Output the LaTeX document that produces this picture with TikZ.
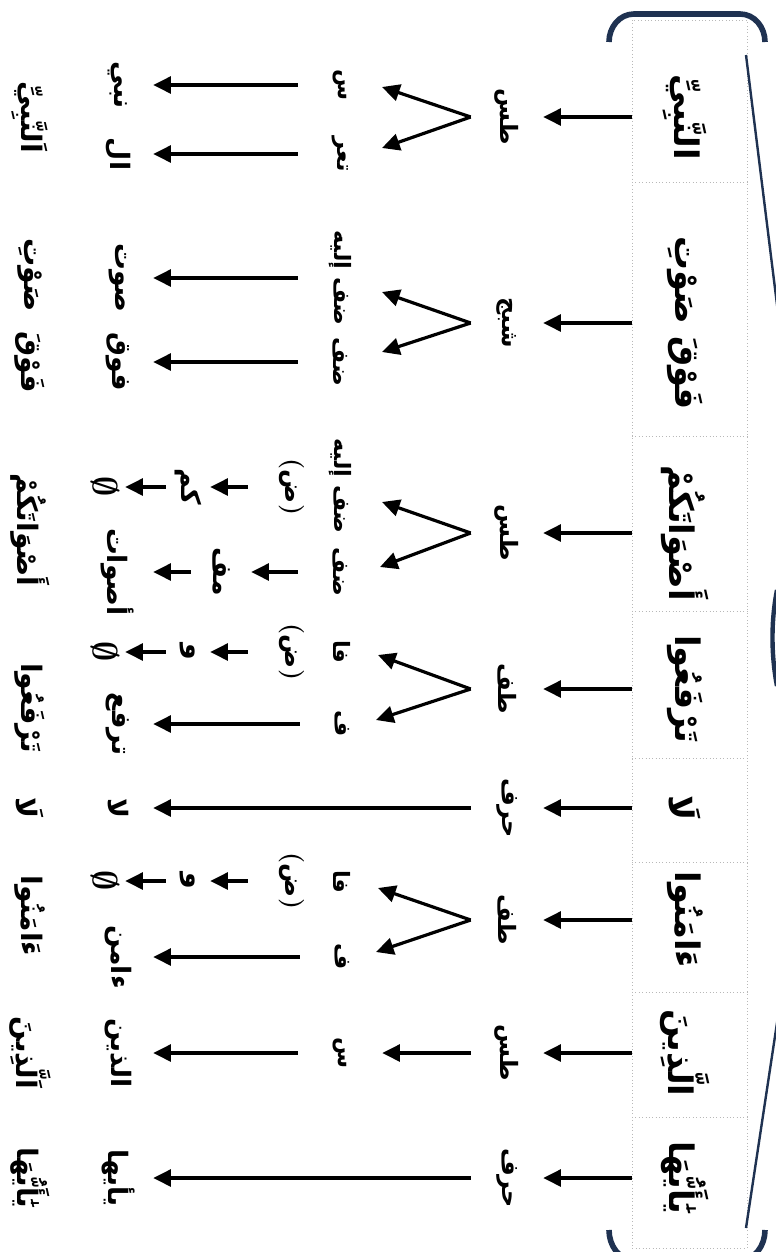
\documentclass[tikz,border=0pt]{standalone}
\usepackage{amssymb}
\usepackage{fontspec}
\usetikzlibrary{arrows.meta}
\newfontfamily\arabicfont[Script=Arabic]{DejaVu Sans}
\TeXXeTstate=1
\newcommand{\artx}[1]{{\arabicfont\bfseries\beginR #1\endR}}
\definecolor{navy}{HTML}{1F3251}
\definecolor{cellgray}{HTML}{B8B8B8}

\begin{document}
\begin{tikzpicture}[x=0.025cm,y=-0.025cm]
\tikzstyle{wrd}=[rotate=-90,inner sep=0pt,minimum height=2.65cm,font=\fontsize{24}{28}\selectfont]
\tikzstyle{lvla}=[rotate=-90,inner sep=0pt,minimum height=1.8cm,font=\fontsize{17}{20}\selectfont]
\tikzstyle{lvlb}=[rotate=-90,inner sep=0pt,minimum height=2.1cm,font=\fontsize{16}{19}\selectfont]
\tikzstyle{lvlc}=[rotate=-90,inner sep=0pt,minimum height=1.75cm,font=\fontsize{19}{22}\selectfont]
\tikzstyle{chn}=[rotate=-90,inner sep=0pt,minimum height=1.1cm,font=\fontsize{19}{22}\selectfont]
\tikzstyle{prn}=[rotate=-90,inner sep=0pt,minimum height=2.2cm,font=\fontsize{18}{22}\selectfont\bfseries]
\tikzstyle{nul}=[rotate=-90,inner sep=0pt,minimum height=1cm,font=\fontsize{26}{30}\selectfont\boldmath]
\tikzstyle{fin}=[rotate=-90,inner sep=0pt,font=\fontsize{20}{24}\selectfont]
\tikzstyle{arr}=[line width=0.8mm,-{Triangle[length=4.4mm,width=4.2mm]}]
\tikzstyle{brk}=[draw=navy,line width=1.4mm]
\useasboundingbox (0,0) rectangle (776,1252);
\clip (0,0) rectangle (776,1252);
\fill[white] (0,0) rectangle (776,1252);

% column of words
\draw[cellgray,dotted] (632,20) rectangle (747,1248);
\foreach \y in {182,436,611,758,862,992,1117}
  \draw[cellgray,dotted] (632,\y) -- (747,\y);
\draw[brk] (609,42) to[out=90,in=180] (634,14) -- (740,14) to[out=0,in=90] (765,42);
\draw[brk] (609,1230) to[out=-90,in=180] (634,1260) -- (740,1260) to[out=0,in=-90] (765,1230);
\draw[navy,line width=0.6mm] (746,55) -- (826,699) -- (746,1228);
\draw[navy,line width=1.1mm] (777,590) .. controls (771,620) and (771,655) .. (777,686);

\node[wrd] (w1) at (685,117) {\artx{النَّبِيِّ}};
\node[wrd] (w2) at (685,323) {\artx{فَوْقَ صَوْتِ}};
\node[wrd] (w3) at (685,533) {\artx{أَصْوَاتَكُمْ}};
\node[wrd] (w4) at (685,689) {\artx{تَرْفَعُوا}};
\node[wrd] (w5) at (685,808) {\artx{لَا}};
\node[wrd] (w6) at (685,920) {\artx{ءَامَنُوا}};
\node[wrd] (w7) at (685,1053) {\artx{الَّذِينَ}};
\node[wrd] (w8) at (685,1178) {\artx{يَٰأَيُّهَا}};

\node[lvla] (r1) at (507,117) {\artx{طس}};
\node[lvla] (r2) at (507,323) {\artx{شبج}};
\node[lvla] (r3) at (507,533) {\artx{طس}};
\node[lvla] (r4) at (507,689) {\artx{طف}};
\node[lvla] (r5) at (507,808) {\artx{حرف}};
\node[lvla] (r6) at (507,920) {\artx{طف}};
\node[lvla] (r7) at (507,1053) {\artx{طس}};
\node[lvla] (r8) at (507,1178) {\artx{حرف}};
\foreach \i in {1,...,8}
  \draw[arr] (w\i) -- (r\i);

\coordinate (tp1) at (382,87);   \coordinate (tq1) at (382,148);
\coordinate (tp2) at (382,292);  \coordinate (tq2) at (382,352);
\coordinate (tp3) at (382,502);  \coordinate (tq3) at (380,567);
\coordinate (tp4) at (378,655);  \coordinate (tq4) at (376,720);
\coordinate (tp6) at (378,888);  \coordinate (tq6) at (376,952);
\foreach \i in {1,2,3,4,6} {
  \draw[arr] (r\i.south) -- (tp\i);
  \draw[arr] (r\i.south) -- (tq\i);
}

\node[lvlb] (p1) at (340,85) {\artx{س}};
\node[lvlb] (q1) at (340,154) {\artx{تعر}};
\node[lvlb] (p2) at (340,278) {\artx{ضف إليه}};
\node[lvlb] (q2) at (340,362) {\artx{ضف}};
\node[lvlb] (p3) at (340,486) {\artx{ضف إليه}};
\node[lvlb] (q3) at (340,572) {\artx{ضف}};
\node[lvlb] (p4) at (342,652) {\artx{فا}};
\node[lvlb] (q4) at (342,724) {\artx{ف}};
\node[lvlb] (p6) at (342,882) {\artx{فا}};
\node[lvlb] (q6) at (342,957) {\artx{ف}};
\node[lvlb] (p7) at (340,1053) {\artx{س}};
\draw[arr] (r7) -- (p7);

\node[prn] (z3) at (292,487) {(\artx{ض})};
\node[prn] (z4) at (292,652) {(\artx{ض})};
\node[prn] (z6) at (292,881) {(\artx{ض})};

\node[lvlc] (np1) at (118,85) {\artx{نبي}};
\node[lvlc] (nq1) at (118,154) {\artx{ال}};
\node[lvlc] (np2) at (118,278) {\artx{صوت}};
\node[lvlc] (nq2) at (118,362) {\artx{فوق}};
\node[chn] (cp3) at (188,487) {\artx{كم}};
\node[nul] (ep3) at (105,487) {$\emptyset$};
\node[chn,minimum height=1.5cm] (cq3) at (221,572) {\artx{مف}};
\node[lvlc] (nq3) at (118,572) {\artx{أصوات}};
\node[chn] (cp4) at (188,652) {\artx{و}};
\node[nul] (ep4) at (105,652) {$\emptyset$};
\node[lvlc] (nq4) at (118,724) {\artx{ترفع}};
\node[lvlc] (n5) at (118,808) {\artx{لا}};
\node[chn] (cp6) at (188,881) {\artx{و}};
\node[nul] (ep6) at (105,881) {$\emptyset$};
\node[lvlc] (nq6) at (118,957) {\artx{ءامن}};
\node[lvlc] (n7) at (118,1053) {\artx{الذين}};
\node[lvlc] (n8) at (118,1178) {\artx{يأيها}};

\draw[arr] (p1) -- (np1);
\draw[arr] (q1) -- (nq1);
\draw[arr] (p2) -- (np2);
\draw[arr] (q2) -- (nq2);
\draw[arr] (z3) -- (cp3);
\draw[arr] (cp3) -- (ep3);
\draw[arr] (q3) -- (cq3);
\draw[arr] (cq3) -- (nq3);
\draw[arr] (z4) -- (cp4);
\draw[arr] (cp4) -- (ep4);
\draw[arr] (q4) -- (nq4);
\draw[arr] (r5) -- (n5);
\draw[arr] (z6) -- (cp6);
\draw[arr] (cp6) -- (ep6);
\draw[arr] (q6) -- (nq6);
\draw[arr] (p7) -- (n7);
\draw[arr] (r8) -- (n8);

\node[fin] (f1) at (30,117) {\artx{اَلنَّبِيِّ}};
\node[fin] (f2) at (30,275) {\artx{صَوْتِ}};
\node[fin] (f3) at (30,362) {\artx{فَوْقَ}};
\node[fin] (f4) at (30,530) {\artx{أَصْوَاتَكُمْ}};
\node[fin] (f5) at (30,708) {\artx{تَرْفَعُوا}};
\node[fin] (f6) at (30,808) {\artx{لَا}};
\node[fin] (f7) at (30,916) {\artx{ءَامَنُوا}};
\node[fin] (f8) at (30,1053) {\artx{اَلَّذِينَ}};
\node[fin] (f9) at (30,1178) {\artx{يَٰأَيُّهَا}};
\end{tikzpicture}
\end{document}
